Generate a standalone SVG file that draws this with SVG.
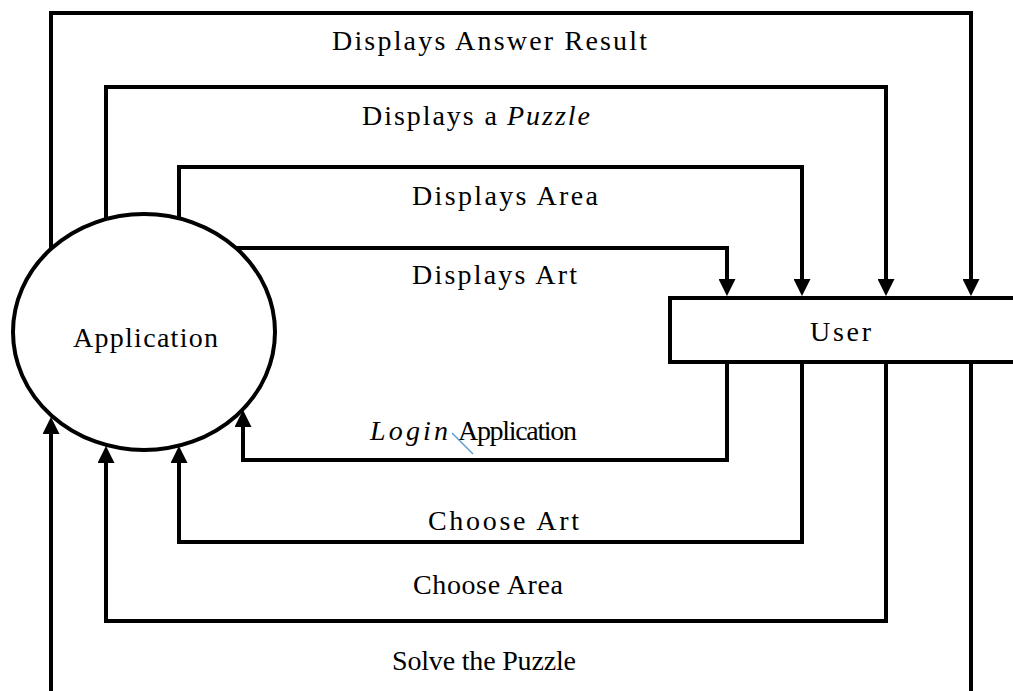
<svg xmlns="http://www.w3.org/2000/svg" width="1013" height="691" viewBox="0 0 1013 691">
  <style>
    .flow { fill: none; stroke: #000; stroke-width: 4; stroke-linejoin: miter; stroke-linecap: butt; marker-end: url(#arrow); }
    .node { fill: #fff; stroke: #000; stroke-width: 4; }
    .lbl { font-family: "Liberation Serif", "Times New Roman", serif; font-size: 28px; fill: #000; }
    .it { font-style: italic; }
  </style>
  <defs>
    <marker id="arrow" viewBox="0 0 10 10" refX="7.6" refY="5" markerWidth="17" markerHeight="17" markerUnits="userSpaceOnUse" orient="auto">
      <path d="M0,0 L10,5 L0,10 z" fill="#000"/>
    </marker>
  </defs>
  <rect width="1013" height="691" fill="#fff"/>

  <g id="connectors">
    <path class="flow" d="M51,249 V13 H971 V292"/>
    <path class="flow" d="M106,219 V87 H886 V292"/>
    <path class="flow" d="M179,218 V167 H802 V292"/>
    <path class="flow" d="M236,248 H727 V292"/>
    <path class="flow" d="M727,362 V460 H243 V414"/>
    <path class="flow" d="M802,362 V542 H179 V450"/>
    <path class="flow" d="M886,362 V621 H106 V450"/>
    <path class="flow" d="M971,362 V720 H51 V421"/>
    <g id="connector-labels">
      <text class="lbl" x="332" y="50" textLength="315" lengthAdjust="spacing">Displays  Answer Result</text>
      <text class="lbl" x="362" y="125" textLength="135" lengthAdjust="spacing">Displays a</text>
      <text class="lbl it" x="507" y="125" textLength="83" lengthAdjust="spacing">Puzzle</text>
      <text class="lbl" x="412" y="205" textLength="186" lengthAdjust="spacing">Displays Area</text>
      <text class="lbl" x="412" y="284" textLength="165" lengthAdjust="spacing">Displays Art</text>
      <text class="lbl it" x="370" y="440" textLength="78" lengthAdjust="spacing">Login</text>
      <text class="lbl" x="458" y="440" textLength="119" lengthAdjust="spacing">Application</text>
      <text class="lbl" x="428" y="530" textLength="151" lengthAdjust="spacing">Choose Art</text>
      <text class="lbl" x="413" y="594" textLength="150" lengthAdjust="spacing">Choose Area</text>
      <text class="lbl" x="392" y="670" textLength="184" lengthAdjust="spacing">Solve the Puzzle</text>
    </g>
    <path d="M452,433 L473,454" stroke="#5B9BD5" stroke-width="1.5" fill="none"/>
  </g>

  <g id="application">
    <ellipse class="node" cx="144" cy="332" rx="131" ry="118" stroke-width="3.5"/>
    <text class="lbl" x="73" y="347" textLength="145" lengthAdjust="spacing">Application</text>
  </g>

  <g id="user">
    <rect class="node" x="670" y="298" width="380" height="64"/>
    <text class="lbl" x="810" y="341" textLength="61" lengthAdjust="spacing">User</text>
  </g>
</svg>
